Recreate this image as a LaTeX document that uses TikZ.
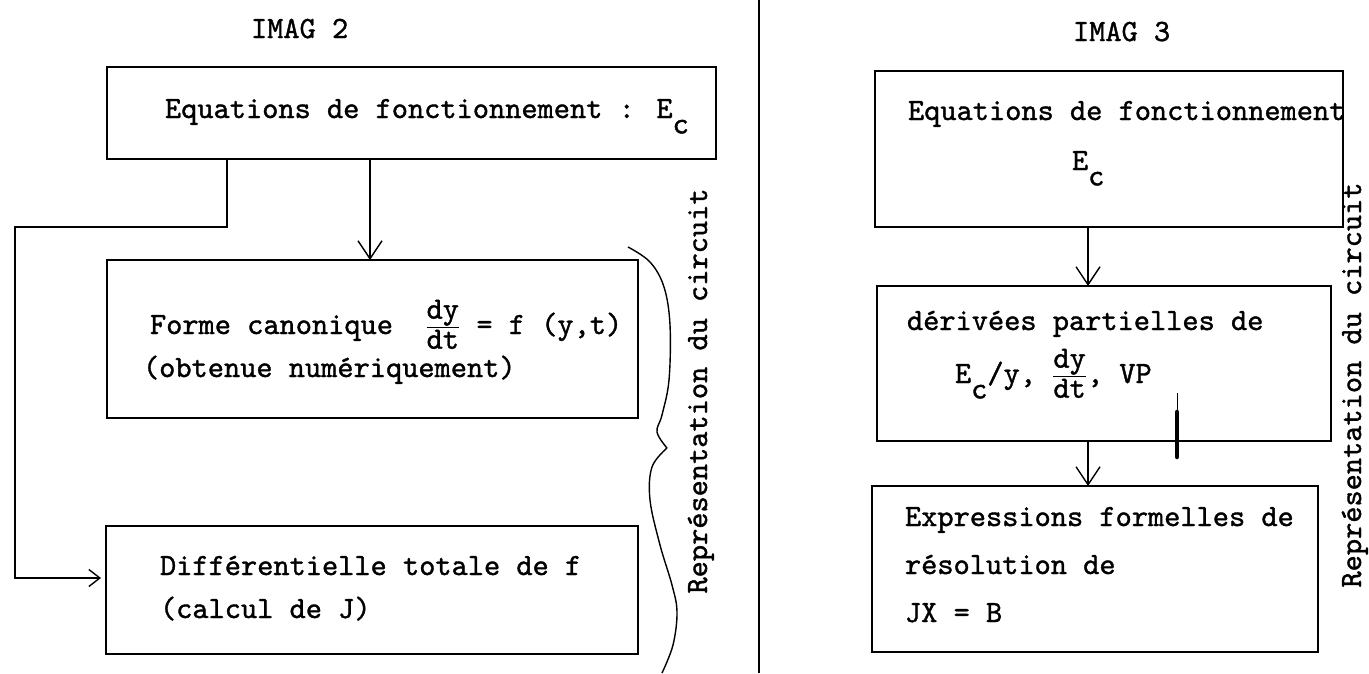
\documentclass[tikz,border=0pt]{standalone}
\usepackage{amsmath}
\usepackage{fontspec}
\setmainfont{lmmono10-regular.otf}[FakeBold=1.2]
\usetikzlibrary{arrows.meta}
\newcommand\lowc{\raisebox{-0.5em}{c}}
\newcommand\dydt{$\genfrac{}{}{1.4pt}{1}{\mbox{dy}}{\mbox{dt}}$}
\begin{document}
\begin{tikzpicture}[x=1pt,y=-1pt,
  every node/.style={font=\fontsize{30.86}{34}\selectfont},
  box/.style={draw,line width=1.6pt,inner sep=0pt,outer sep=0pt},
  txt/.style={inner sep=0pt,outer sep=0pt,anchor=base west},
  conn/.style={line width=1.4pt},
  arr/.style={line width=1.4pt,-{Straight Barb[length=18pt,width=24pt,line width=1.4pt]}},
  arrs/.style={line width=1.4pt,-{Straight Barb[length=11pt,width=17pt,line width=1.4pt]}}]
\useasboundingbox (0,0) rectangle (1369,673);
% separator
\coordinate (s1) at (759,0);
\coordinate (s2) at (759,673);
\draw[conn] (s1) -- (s2);
% titles
\node[txt] (tl) at (251,38) {IMAG 2};
\node[txt] (tr) at (1073,41) {IMAG 3};
% left boxes
\node[box,minimum width=609,minimum height=92] (L1) at (411.5,113) {};
\node[box,minimum width=531,minimum height=158] (L2) at (372.5,339) {};
\node[box,minimum width=532,minimum height=128] (L3) at (372,590) {};
\node[txt] (l1t) at (165,118) {Equations de fonctionnement : E\lowc};
\node[txt] (l2a) at (150,334) {Forme canonique\ \ \dydt\ = f (y,t)};
\node[txt] (l2b) at (143,377) {(obtenue numériquement)};
\node[txt] (l3a) at (160,575) {Différentielle totale de f};
\node[txt] (l3b) at (160,618) {(calcul de J)};
% left connectors
\coordinate (a1) at (370,0);
\draw[arr] (L1.south -| a1) -- (L2.north -| a1);
\coordinate (k1) at (227,227);
\coordinate (k2) at (15,227);
\coordinate (k3) at (15,578);
\draw[arrs,shorten >=5pt] (k1 |- L1.south) -- (k1) -- (k2) -- (k3) -- (k3 -| L3.west);
% brace
\draw[line width=1.4pt] plot[smooth,tension=0.6] coordinates {(628,247) (650,262) (664,287) (670,325) (669,380) (662,415) (657,432) (667,448)};
\draw[line width=1.4pt] plot[smooth,tension=0.6] coordinates {(667,448) (652,467) (650,500) (660,545) (672,585) (677,612) (673,645) (662,673)};
\node[txt,rotate=90,anchor=base] (rl) at (707,391) {Représentation du circuit};
% right boxes
\node[box,minimum width=468,minimum height=156] (R1) at (1109,149) {};
\node[box,minimum width=454,minimum height=155] (R2) at (1104,363.5) {};
\node[box,minimum width=446,minimum height=166] (R3) at (1095,569) {};
\node[txt] (r1a) at (908,120) {Equations de fonctionnement};
\node[txt] (r1b) at (1072,170) {E\lowc};
\node[txt] (r2a) at (907,330) {dérivées partielles de};
\node[txt] (r2b) at (955,383) {E\lowc/y, \dydt, VP};
\node[txt] (r3a) at (905,526) {Expressions formelles de};
\node[txt] (r3b) at (905,574) {résolution de};
\node[txt] (r3c) at (905,622) {JX = B};
\coordinate (a2) at (1088,0);
\draw[arr] (R1.south -| a2) -- (R2.north -| a2);
\draw[arr] (R2.south -| a2) -- (R3.north -| a2);
\node[txt,rotate=90,anchor=base] (rr) at (1361,385) {Représentation du circuit};
% ink blot
\coordinate (b1) at (1177,393);
\coordinate (b2) at (1177,412);
\coordinate (b3) at (1177,457);
\draw[line width=0.8pt] (b1) -- (b2);
\draw[line width=4.5pt,line cap=round] (b2) -- (b3);
\end{tikzpicture}
\end{document}
